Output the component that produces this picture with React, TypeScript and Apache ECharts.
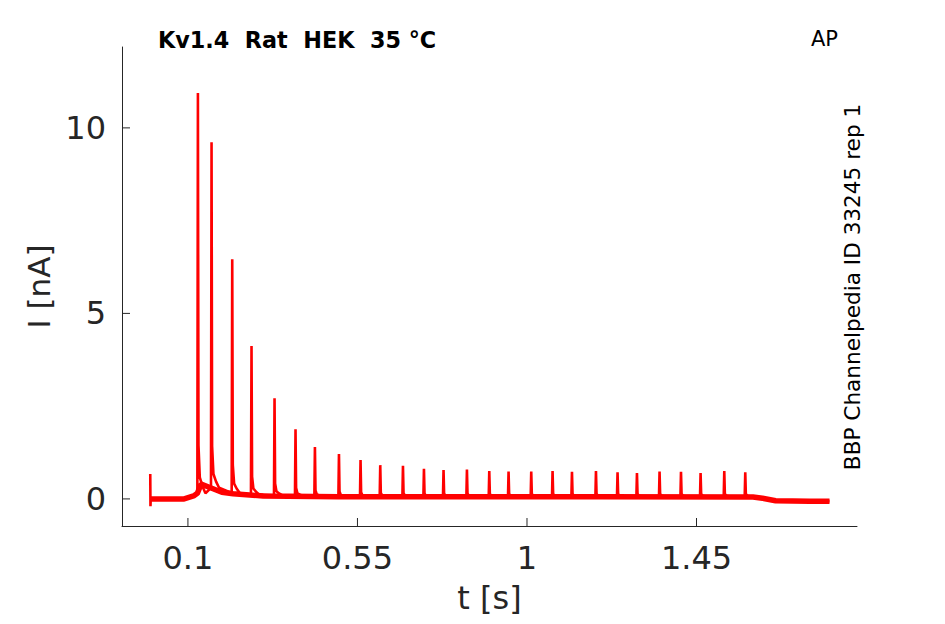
import React, { useEffect, useRef } from "react";
import * as echarts from "echarts";

// Axis ranges and tick labels
const xMin = -0.075;
const xMax = 1.876;
const yMin = -0.73;
const yMax = 12.18;
const xTicks = [0.1, 0.55, 1, 1.45];
const yTicks = [0, 5, 10];

// Spike times (s) and peak currents (nA)
const spikeTimes = [
  0.1265, 0.1627, 0.2176, 0.2688, 0.3299, 0.3856, 0.4371, 0.5009, 0.5582,
  0.6105, 0.6708, 0.7265, 0.7785, 0.8406, 0.8999, 0.9511, 1.0113, 1.0679,
  1.1194, 1.1831, 1.2404, 1.2919, 1.3519, 1.4088, 1.4608, 1.5237, 1.5794,
];
const spikePeaks = [
  10.94, 9.61, 6.46, 4.12, 2.71, 1.88, 1.4, 1.21, 1.05, 0.91, 0.89, 0.81,
  0.78, 0.79, 0.75, 0.74, 0.74, 0.75, 0.73, 0.75, 0.72, 0.7, 0.74, 0.73,
  0.7, 0.75, 0.72,
];
// Level the trace sits on just before each spike
const spikeBase = [
  0.15, 0.3, 0.16, 0.12, 0.1, 0.08, 0.07, 0.06, 0.06, 0.06, 0.06, 0.06,
  0.06, 0.06, 0.06, 0.06, 0.06, 0.06, 0.06, 0.06, 0.06, 0.06, 0.06, 0.06,
  0.06, 0.06, 0.06,
];
// Shape of one spike: time offsets and fraction of the height above base
const shapeOffsets = [-0.0015, 0, 0.0015, 0.005, 0.012, 0.02];
const shapeFractions = [0, 1, 0.12, 0.04, 0.018, 0];

// Capacitive artefact at the start of the sweep
const artefactTimes = [0, 0.0006, 0.0012, 0.0018];
const artefactValues = [0.67, -0.2, 0.0, 0.0];

// Noisy baseline band (centre of the thick trace)
const baseTimes = [
  0, 0.09, 0.115, 0.125, 0.135, 0.16, 0.19, 0.22, 0.3, 0.5, 0.8, 1.2, 1.6,
  1.625, 1.66, 1.75, 1.803,
];
const baseValues = [
  0.0, 0.0, 0.08, 0.15, 0.4, 0.3, 0.18, 0.14, 0.08, 0.06, 0.06, 0.06, 0.05,
  0.02, -0.05, -0.06, -0.06,
];

const RED = "#ff0000";
const AXIS = "#262626";
const FONT = '"DejaVu Sans", sans-serif';
const TICK_LEN = 8;

export default function App() {
  const ref = useRef<HTMLDivElement>(null);

  useEffect(() => {
    if (!ref.current) return;
    const chart = echarts.init(ref.current, undefined, { renderer: "svg" });

    const trace: number[][] = [];
    artefactTimes.forEach((t, i) => trace.push([t, artefactValues[i]]));
    trace.push([0.09, 0.0]);
    spikeTimes.forEach((t, i) => {
      const b = spikeBase[i];
      const p = spikePeaks[i];
      shapeOffsets.forEach((o, k) => {
        trace.push([t + o, b + (p - b) * shapeFractions[k]]);
      });
    });
    for (let i = 0; i < baseTimes.length; i++) {
      if (baseTimes[i] > spikeTimes[spikeTimes.length - 1] + 0.02) {
        trace.push([baseTimes[i], baseValues[i]]);
      }
    }

    const band = baseTimes.map((t, i) => [t, baseValues[i]]);

    const tickStyle = { stroke: AXIS, lineWidth: 1 };

    chart.setOption({
      animation: false,
      grid: { left: 122, right: 88, top: 47, bottom: 98 },
      xAxis: {
        type: "value",
        min: xMin,
        max: xMax,
        name: "t [s]",
        nameLocation: "middle",
        nameGap: 56,
        nameTextStyle: { fontSize: 32, fontFamily: FONT, color: AXIS },
        axisLine: { show: true, onZero: false, lineStyle: { color: AXIS, width: 1 } },
        axisTick: { show: false },
        axisLabel: {
          customValues: xTicks,
          formatter: (v: number) => String(v),
          fontSize: 32,
          fontFamily: FONT,
          color: AXIS,
          margin: 16,
        },
        splitLine: { show: false },
      },
      yAxis: {
        type: "value",
        min: yMin,
        max: yMax,
        name: "I [nA]",
        nameLocation: "middle",
        nameGap: 66,
        nameTextStyle: { fontSize: 31, fontFamily: FONT, color: AXIS },
        axisLine: { show: true, onZero: false, lineStyle: { color: AXIS, width: 1 } },
        axisTick: { show: false },
        axisLabel: {
          customValues: yTicks,
          formatter: (v: number) => String(v),
          fontSize: 32,
          fontFamily: FONT,
          color: AXIS,
          margin: 16,
        },
        splitLine: { show: false },
      },
      series: [
        {
          type: "line",
          data: band,
          showSymbol: false,
          silent: true,
          z: 2,
          lineStyle: { color: RED, width: 5.5 },
        },
        {
          type: "line",
          data: trace,
          showSymbol: false,
          silent: true,
          z: 3,
          lineStyle: { color: RED, width: 2.6 },
        },
        {
          // inward tick marks on the x axis
          type: "custom",
          silent: true,
          clip: false,
          z: 5,
          data: xTicks.map((v) => [v, yMin]),
          renderItem: (_p: any, api: any) => {
            const c = api.coord([api.value(0), api.value(1)]);
            return {
              type: "line",
              shape: { x1: c[0], y1: c[1], x2: c[0], y2: c[1] - TICK_LEN },
              style: tickStyle,
            };
          },
        },
        {
          // inward tick marks on the y axis
          type: "custom",
          silent: true,
          clip: false,
          z: 5,
          data: yTicks.map((v) => [xMin, v]),
          renderItem: (_p: any, api: any) => {
            const c = api.coord([api.value(0), api.value(1)]);
            return {
              type: "line",
              shape: { x1: c[0], y1: c[1], x2: c[0] + TICK_LEN, y2: c[1] },
              style: tickStyle,
            };
          },
        },
      ],
      graphic: [
        {
          type: "text",
          x: 158,
          y: 40,
          style: {
            text: "Kv1.4  Rat  HEK  35 °C",
            font: 'bold 22.3px "DejaVu Sans", sans-serif',
            fill: "#000",
            textAlign: "left",
            textVerticalAlign: "middle",
          },
        },
        {
          type: "text",
          x: 811,
          y: 39,
          style: {
            text: "AP",
            font: '21px "DejaVu Sans", sans-serif',
            fill: "#000",
            textAlign: "left",
            textVerticalAlign: "middle",
          },
        },
        {
          type: "text",
          x: 852,
          y: 287,
          rotation: Math.PI / 2,
          style: {
            text: "BBP Channelpedia ID 33245 rep 1",
            font: '21.6px "DejaVu Sans", sans-serif',
            fill: "#000",
            textAlign: "center",
            textVerticalAlign: "middle",
          },
        },
      ],
    });

    return () => chart.dispose();
  }, []);

  return (
    <div
      ref={ref}
      style={{ position: "fixed", left: 0, top: 0, width: 945, height: 624, background: "#fff" }}
    />
  );
}
